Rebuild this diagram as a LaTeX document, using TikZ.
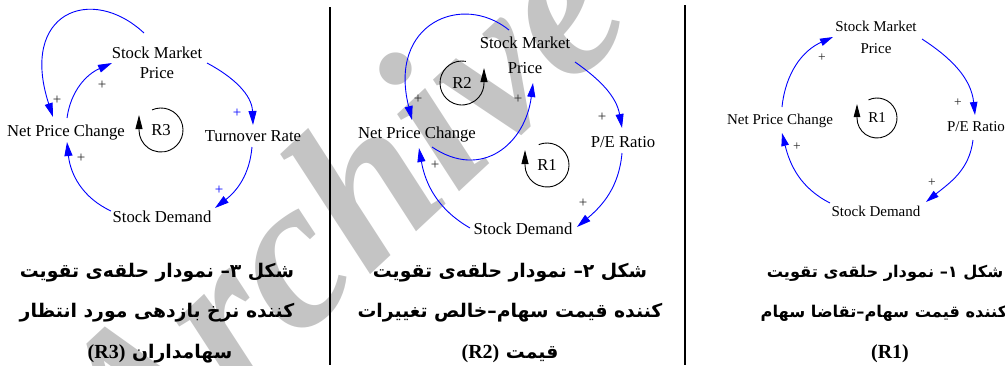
\documentclass[tikz,border=0pt]{standalone}
\usepackage{fontspec}
\setmainfont{Liberation Serif}
\newfontfamily\arabicfont[Script=Arabic]{DejaVu Sans}
\TeXXeTstate=1
\usetikzlibrary{arrows.meta}
\definecolor{linkblue}{RGB}{0,0,255}
\definecolor{markgray}{RGB}{196,196,196}
% Persian caption line and a Latin insert inside it
\newcommand\faline[1]{\beginR #1\endR}
\newcommand\latin[1]{\beginL{\rmfamily\bfseries\fontsize{20}{20}\selectfont #1}\endL}
\begin{document}
\begin{tikzpicture}[x=1pt,y=1pt,
  lbl/.style={font=\fontsize{16.7}{20}\selectfont, inner sep=0pt, text height=11pt, text depth=0pt},
  lbls/.style={font=\fontsize{15}{18}\selectfont, inner sep=0pt, text height=9.9pt, text depth=0pt},
  twoline/.style={font=\fontsize{16.7}{#1}\selectfont, align=center, inner sep=0pt},
  twolines/.style={font=\fontsize{15}{#1}\selectfont, align=center, inner sep=0pt},
  link/.style={draw=linkblue, line width=0.9pt, -{Triangle[length=14pt,width=8pt]}, fill=none},
  links/.style={link, -{Triangle[length=13pt,width=7.5pt]}},
  loopmark/.style={draw=black, line width=0.9pt, -{Triangle[length=14pt,width=7pt]}},
  pol/.style={font=\fontsize{15}{15}\selectfont, text=black!85, inner sep=0pt},
  polblue/.style={pol, text=linkblue},
  pols/.style={font=\fontsize{13.5}{13.5}\selectfont, text=black!85, inner sep=0pt},
  capline/.style={font=\arabicfont\bfseries\fontsize{18.8}{18.8}\selectfont, inner sep=0pt, anchor=base},
  caplines/.style={capline, font=\arabicfont\bfseries\fontsize{16.2}{16.2}\selectfont},
  divider/.style={draw=black, line width=2pt}
]
\useasboundingbox (0,0) rectangle (1005,-365);

% watermark behind everything
\node[text=markgray, rotate=43, inner sep=0pt,
      font=\fontsize{215}{215}\selectfont\bfseries\itshape] (mark) at (335,-207) {Archive};

% column rules
\coordinate (ruleAtop) at (330,-7);
\coordinate (ruleAbot) at (330,-365);
\coordinate (ruleBtop) at (685,-5);
\coordinate (ruleBbot) at (685,-365);
\draw[divider] (ruleAtop) -- (ruleAbot);
\draw[divider] (ruleBtop) -- (ruleBbot);

% ---------- left column: loop R3 ----------
\node[twoline=20] (smp1) at (157,-63) {Stock Market\\Price};
\node[lbl] (npc1) at (66,-131) {Net Price Change};
\node[lbl] (tr1) at (253,-136) {Turnover Rate};
\node[lbl] (sd1) at (162,-217) {Stock Demand};
\node[lbl] (r3) at (161,-130) {R3};

\draw[link] ([shift={(50,0)}]smp1.center) to[out=-28,in=92] ([shift={(0,11)}]tr1.center);
\draw[link] ([shift={(-1,-11)}]tr1.center) to[out=-95,in=38] ([shift={(53,9)}]sd1.center);
\draw[link] ([shift={(-51,6)}]sd1.center) to[out=155,in=-84] ([shift={(1,-11)}]npc1.center);
\draw[link] ([shift={(1,13)}]npc1.center) to[out=82,in=-156] ([shift={(-45,0)}]smp1.center);
\draw[link] ([shift={(-13,30)}]smp1.center) .. controls +(137:72) and +(108:110) .. ([shift={(-13,14)}]npc1.center);

\node[pol] (p1a) at (102,-85) {+};
\node[pol] (p1b) at (57,-100) {+};
\node[polblue] (p1c) at (237,-113) {+};
\node[polblue] (p1d) at (219,-190) {+};
\node[pol] (p1e) at (81,-158) {+};

\draw[loopmark] ([shift={(114:22)}]r3.center) arc[start angle=114, end angle=-180, radius=22] -- ++(0,15);

% ---------- middle column: loops R1 and R2 ----------
\node[twoline=25] (smp2) at (525,-55.5) {Stock Market\\Price};
\node[lbl] (npc2) at (417,-133) {Net Price Change};
\node[lbl] (pe2) at (623,-142) {P/E Ratio};
\node[lbl] (sd2) at (523,-229) {Stock Demand};
\node[lbl] (r2) at (462,-83) {R2};
\node[lbl] (r1b) at (547,-165) {R1};

\draw[link] ([shift={(50,-6.5)}]smp2.center) to[out=-35,in=100] ([shift={(-1,14)}]pe2.center);
\draw[link] ([shift={(-1,-11)}]pe2.center) to[out=-95,in=40] ([shift={(54,2)}]sd2.center);
\draw[link] ([shift={(-53,1)}]sd2.center) to[out=150,in=-80] ([shift={(2,-15)}]npc2.center);
\draw[link] ([shift={(15,-14)}]npc2.center) to[out=-34,in=-97,looseness=1.3] ([shift={(8,-27.5)}]smp2.center);
\draw[link] ([shift={(-16,25.5)}]smp2.center) .. controls +(141:60) and +(104:100) .. ([shift={(-5,13)}]npc2.center);

\node[pol] (p2a) at (602,-117) {+};
\node[pol] (p2b) at (583,-203) {+};
\node[pol] (p2c) at (435,-165) {+};
\node[pol] (p2d) at (518,-99) {+};
\node[pol] (p2e) at (418,-99) {+};

\draw[loopmark] ([shift={(80:22)}]r2.center) arc[start angle=80, end angle=360, radius=22] -- ++(0,15);
\draw[loopmark] ([shift={(112:22)}]r1b.center) arc[start angle=112, end angle=-180, radius=22] -- ++(0,15);

% ---------- right column: loop R1 ----------
\node[twolines=22] (smp3) at (876,-37) {Stock Market\\Price};
\node[lbls] (npc3) at (780,-120) {Net Price Change};
\node[lbls] (pe3) at (976,-127) {P/E Ratio};
\node[lbls] (sd3) at (876,-212) {Stock Demand};
\node[lbls] (r1c) at (877,-118) {R1};

\draw[links] ([shift={(46,-2)}]smp3.center) to[out=-33,in=96] ([shift={(-1,12)}]pe3.center);
\draw[links] ([shift={(-3,-13)}]pe3.center) to[out=-97,in=39] ([shift={(50,10)}]sd3.center);
\draw[links] ([shift={(-46,9)}]sd3.center) to[out=153,in=-76] ([shift={(2,-13)}]npc3.center);
\draw[links] ([shift={(2,13)}]npc3.center) to[out=84,in=-156] ([shift={(-43,0)}]smp3.center);

\node[pols] (p3a) at (958,-103) {+};
\node[pols] (p3b) at (932,-183) {+};
\node[pols] (p3c) at (797,-147) {+};
\node[pols] (p3d) at (822,-58) {+};

\draw[loopmark, -{Triangle[length=13pt,width=6.5pt]}] ([shift={(115:20)}]r1c.center) arc[start angle=115, end angle=-180, radius=20] -- ++(0,14);

% ---------- captions ----------
\node[capline] (c3a) at (157,-277) {\faline{شکل ۳\kern0pt– نمودار حلقه^^^^200cی تقویت}};
\node[capline] (c3b) at (157,-317) {\faline{کننده نرخ بازدهی مورد انتظار}};
\node[capline] (c3c) at (160,-358) {\faline{سهامداران \latin{(R3)}}};

\node[capline] (c2a) at (510,-277) {\faline{شکل ۲\kern0pt– نمودار حلقه^^^^200cی تقویت}};
\node[capline] (c2b) at (510,-317) {\faline{کننده قیمت سهام–خالص تغییرات}};
\node[capline] (c2c) at (510,-358) {\faline{قیمت \latin{(R2)}}};

\node[caplines] (c1a) at (885,-277) {\faline{شکل ۱\kern0pt– نمودار حلقه^^^^200cی تقویت}};
\node[caplines] (c1b) at (884,-317) {\faline{کننده قیمت سهام–تقاضا سهام}};
\node[capline] (c1c) at (890,-358) {\latin{(R1)}};
\end{tikzpicture}
\end{document}
